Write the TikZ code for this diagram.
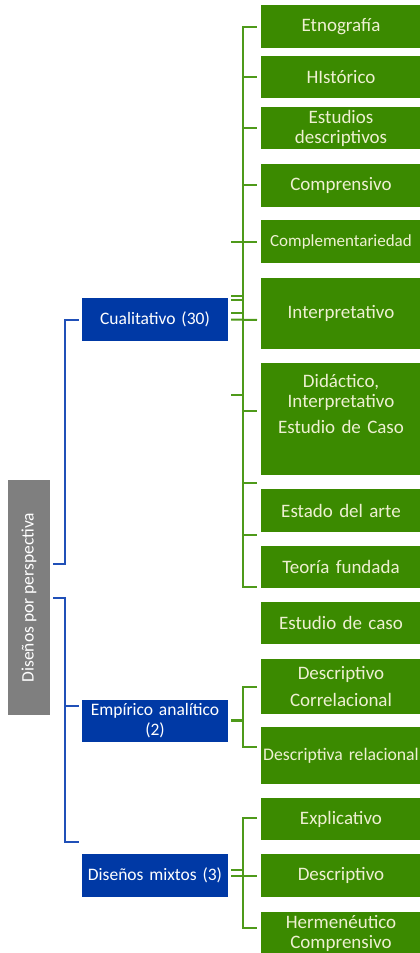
\documentclass[tikz,border=0pt]{standalone}
\usepackage{fontspec}
\setmainfont{Carlito}
\definecolor{boxgreen}{RGB}{59,138,0}
\definecolor{linegreen}{RGB}{78,154,26}
\definecolor{boxblue}{RGB}{0,57,165}
\definecolor{lineblue}{RGB}{32,80,184}
\definecolor{boxgray}{RGB}{127,127,127}
\definecolor{paletext}{RGB}{238,240,210}

\begin{document}
\begin{tikzpicture}[x=1pt,y=-1pt,
    every node/.style={inner sep=0pt, font=\fontsize{17.5}{20}\selectfont},
    hoja/.style={fill=boxgreen, text=paletext, minimum width=160pt, text width=158pt, align=center,
        font=\fontsize{19}{20}\selectfont},
    rama/.style={fill=boxblue, text=white, minimum width=146pt, minimum height=43pt, text width=140pt, align=center},
    gline/.style={draw=linegreen, line width=2pt},
    bline/.style={draw=lineblue, line width=2pt}]
        \useasboundingbox (0,0) rectangle (420,953);
        % raiz
        \node [fill=boxgray, minimum width=42pt, minimum height=235pt](root) at (29,597.5) {};
        \node [text=white, rotate=90](roottxt) at (root.center) {Diseños por perspectiva};
        % ramas
        \node [rama](cual) at (155,319.5) {Cualitativo (30)};
        \node [rama, minimum height=42pt](emp) at (155,721) {Empírico analítico\\(2)};
        \node [rama](mixt) at (155,875.5) {Diseños mixtos (3)};
        % hojas
        \node [hoja, minimum height=43pt](etno) at (341,26.5) {Etnografía};
        \node [hoja, minimum height=42pt](hist) at (341,77) {HIstórico};
        \node [hoja, minimum height=42pt](estud) at (341,128) {Estudios\\descriptivos};
        \node [hoja, minimum height=43pt](compr) at (341,185.5) {Comprensivo};
        \node [hoja, minimum height=43pt, font=\fontsize{17}{20}\selectfont](compl) at (341,241.5) {Complementariedad};
        \node [hoja, minimum height=71pt](interp) at (341,313.5) {Interpretativo};
        \node [hoja, minimum height=112pt](didac) at (341,419) {};
        \node [hoja, fill=none, anchor=north](didactxt) at (341,374) {Didáctico,\\Interpretativo\\[6pt]Estudio de Caso};
        \node [hoja, minimum height=43pt](estado) at (341,510.5) {Estado del arte};
        \node [hoja, minimum height=42pt](teoria) at (341,567) {Teoría fundada};
        \node [hoja, minimum height=42pt](caso) at (341,623) {Estudio de caso};
        \node [hoja, minimum height=55pt](desccor) at (341,686.5) {Descriptivo\\[7pt]Correlacional};
        \node [hoja, minimum height=57pt, font=\fontsize{17.7}{20}\selectfont](descrel) at (341,755.5) {Descriptiva relacional};
        \node [hoja, minimum height=42pt](expl) at (341,819) {Explicativo};
        \node [hoja, minimum height=43pt](descr) at (341,875.5) {Descriptivo};
        \node [hoja, minimum height=43pt](herm) at (341,933.5) {Hermenéutico\\Comprensivo};
        % conectores azules
        \coordinate (rootA) at (53,564);
        \coordinate (rootB) at (53,598);
        \coordinate (empin) at (79,706);
        \coordinate (mixin) at (79,842);
        \draw [bline] (rootA) -- ++(12,0) |- ([xshift=-3pt]cual.west);
        \draw [bline] (rootB) -- ++(12,0) |- (mixin);
        \draw [bline] (65,706) -- (empin);
        % conectores verdes, cualitativo
        \draw [gline] ([xshift=-4pt]etno.west) -| (243,587) -- (257,587);
        \foreach \y in {77,128,185,411,483,535}
            \draw [gline] (243,\y) -- (257,\y);
        \draw [gline] (231,241.5) -- ([xshift=-4pt]compl.west);
        \foreach \y in {296,300,313,395}
            \draw [gline] (231,\y) -- (243,\y);
        \draw [gline] ([xshift=3pt]cual.east) -- (257,320);
        % empirico
        \draw [gline] (257,687) -| (243,747) -- (257,747);
        \draw [gline, line width=3pt] ([xshift=3pt]emp.east |- 0,720) -- (243,720);
        % mixtos
        \draw [gline] (257,818) -| (243,928) -- (257,928);
        \draw [gline] (231,870) -- (243,870);
        \draw [gline] ([xshift=3pt]mixt.east) -- ([xshift=-4pt]descr.west);
\end{tikzpicture}
\end{document}
